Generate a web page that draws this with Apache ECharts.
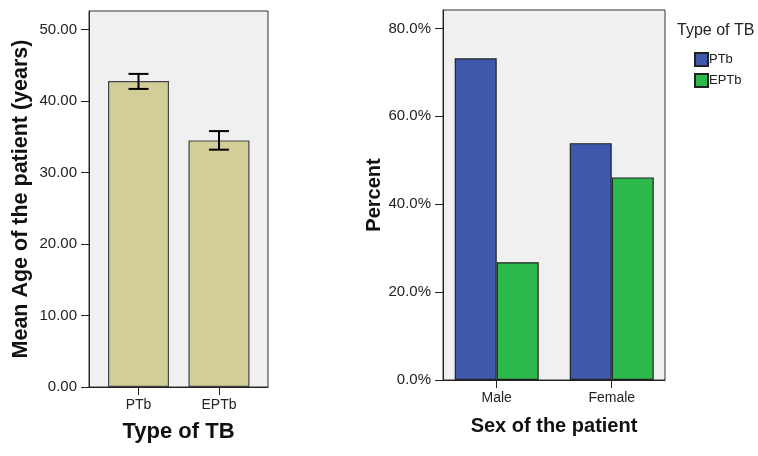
<!DOCTYPE html>
<html>
<head>
<meta charset="utf-8">
<script src="https://cdn.jsdelivr.net/npm/echarts@6/dist/echarts.min.js"></script>
<style>
html,body{margin:0;padding:0;background:#fff;}
#c{width:758px;height:456px;}
</style>
</head>
<body>
<div id="c"></div>
<script>
// ---- data ----
const tbTypes = ['PTb', 'EPTb'];
const meanAge = [42.8, 34.5];
const ageCiLow = [41.7, 33.2];
const ageCiHigh = [43.8, 35.8];
const ageTicks = [0, 10, 20, 30, 40, 50];

const sexCategories = ['Male', 'Female'];
const ptbPercent = [73.2, 53.9];
const eptbPercent = [26.8, 46.1];
const percentTicks = [0, 20, 40, 60, 80];

const seriesNames = ['PTb', 'EPTb'];

// ---- build ----
const FONT = 'Liberation Sans, Arial, sans-serif';
const pos = arr => arr.map((_, i) => i + 1);

const chart = echarts.init(document.getElementById('c'), null, {renderer: 'canvas'});

const axisLineStyle = {lineStyle: {color: '#222', width: 1}};
const tickStyle = {show: true, length: 8, inside: false, lineStyle: {color: '#222', width: 1}};

const option = {
  animation: false,
  backgroundColor: '#ffffff',
  title: {
    text: 'Type of TB', left: 672, top: 18,
    textStyle: {fontFamily: FONT, fontSize: 16, fontWeight: 'normal', color: '#222'}
  },
  legend: {
    data: seriesNames,
    orient: 'vertical', left: 689, top: 47,
    itemWidth: 13, itemHeight: 13, itemGap: 6,
    icon: 'rect',
    textStyle: {fontFamily: FONT, fontSize: 13, color: '#222', padding: [0, 0, 0, -4]}
  },
  grid: [
    {left: 89, top: 11, width: 179, height: 376, show: true, backgroundColor: '#f0f0f0', borderColor: '#333', borderWidth: 1},
    {left: 443, top: 10, width: 222, height: 370, show: true, backgroundColor: '#f0f0f0', borderColor: '#333', borderWidth: 1}
  ],
  xAxis: [
    {
      gridIndex: 0, type: 'value', min: 0.385, max: 2.609,
      splitLine: {show: false},
      axisLine: {show: true, ...axisLineStyle},
      axisTick: {...tickStyle, customValues: pos(tbTypes)},
      axisLabel: {customValues: pos(tbTypes), formatter: v => tbTypes[Math.round(v) - 1] || '',
        fontFamily: FONT, fontSize: 14, color: '#222', margin: 11},
      name: 'Type of TB', nameLocation: 'middle', nameGap: 34,
      nameTextStyle: {fontFamily: FONT, fontSize: 22, fontWeight: 'bold', color: '#111'}
    },
    {
      gridIndex: 1, type: 'value', min: 0.533, max: 2.463,
      splitLine: {show: false},
      axisLine: {show: true, ...axisLineStyle},
      axisTick: {...tickStyle, customValues: pos(sexCategories)},
      axisLabel: {customValues: pos(sexCategories), formatter: v => sexCategories[Math.round(v) - 1] || '',
        fontFamily: FONT, fontSize: 14, color: '#222', margin: 11},
      name: 'Sex of the patient', nameLocation: 'middle', nameGap: 36,
      nameTextStyle: {fontFamily: FONT, fontSize: 20, fontWeight: 'bold', color: '#111'}
    }
  ],
  yAxis: [
    {
      gridIndex: 0, type: 'value', min: 0, max: 52.6,
      splitLine: {show: false},
      axisLine: {show: true, ...axisLineStyle},
      axisTick: {...tickStyle, customValues: ageTicks},
      axisLabel: {customValues: ageTicks, formatter: v => v.toFixed(2),
        fontFamily: FONT, fontSize: 15, color: '#222', margin: 12},
      name: 'Mean Age of the patient (years)', nameLocation: 'middle', nameGap: 57,
      nameTextStyle: {fontFamily: FONT, fontSize: 21.5, fontWeight: 'bold', color: '#111'}
    },
    {
      gridIndex: 1, type: 'value', min: 0, max: 84.2,
      splitLine: {show: false},
      axisLine: {show: true, ...axisLineStyle},
      axisTick: {...tickStyle, customValues: percentTicks},
      axisLabel: {customValues: percentTicks, formatter: v => v.toFixed(1) + '%',
        fontFamily: FONT, fontSize: 15, color: '#222', margin: 12},
      name: 'Percent', nameLocation: 'middle', nameGap: 55,
      nameTextStyle: {fontFamily: FONT, fontSize: 20, fontWeight: 'bold', color: '#111'}
    }
  ],
  series: [
    {
      type: 'bar', xAxisIndex: 0, yAxisIndex: 0, barWidth: 61,
      data: meanAge.map((v, i) => [i + 1, v]),
      itemStyle: {color: '#d3ce97', borderColor: '#444', borderWidth: 1.2},
      z: 2
    },
    {
      type: 'custom', xAxisIndex: 0, yAxisIndex: 0,
      data: meanAge.map((v, i) => [i + 1, ageCiLow[i], ageCiHigh[i]]),
      renderItem: function (params, api) {
        const lo = api.coord([api.value(0), api.value(1)]);
        const hi = api.coord([api.value(0), api.value(2)]);
        const hw = 10;
        const st = {stroke: '#000', lineWidth: 2};
        return {
          type: 'group',
          children: [
            {type: 'line', shape: {x1: lo[0], y1: lo[1], x2: hi[0], y2: hi[1]}, style: st},
            {type: 'line', shape: {x1: lo[0] - hw, y1: lo[1], x2: lo[0] + hw, y2: lo[1]}, style: st},
            {type: 'line', shape: {x1: hi[0] - hw, y1: hi[1], x2: hi[0] + hw, y2: hi[1]}, style: st}
          ]
        };
      },
      z: 5
    },
    {
      name: seriesNames[0], type: 'bar', xAxisIndex: 1, yAxisIndex: 1, barWidth: 42, barGap: '0%',
      data: ptbPercent.map((v, i) => [i + 1, v]),
      itemStyle: {color: '#3e58ab', borderColor: '#222', borderWidth: 1.2}
    },
    {
      name: seriesNames[1], type: 'bar', xAxisIndex: 1, yAxisIndex: 1, barWidth: 42, barGap: '0%',
      data: eptbPercent.map((v, i) => [i + 1, v]),
      itemStyle: {color: '#2db84b', borderColor: '#222', borderWidth: 1.2}
    }
  ]
};
chart.setOption(option);
</script>
</body>
</html>
